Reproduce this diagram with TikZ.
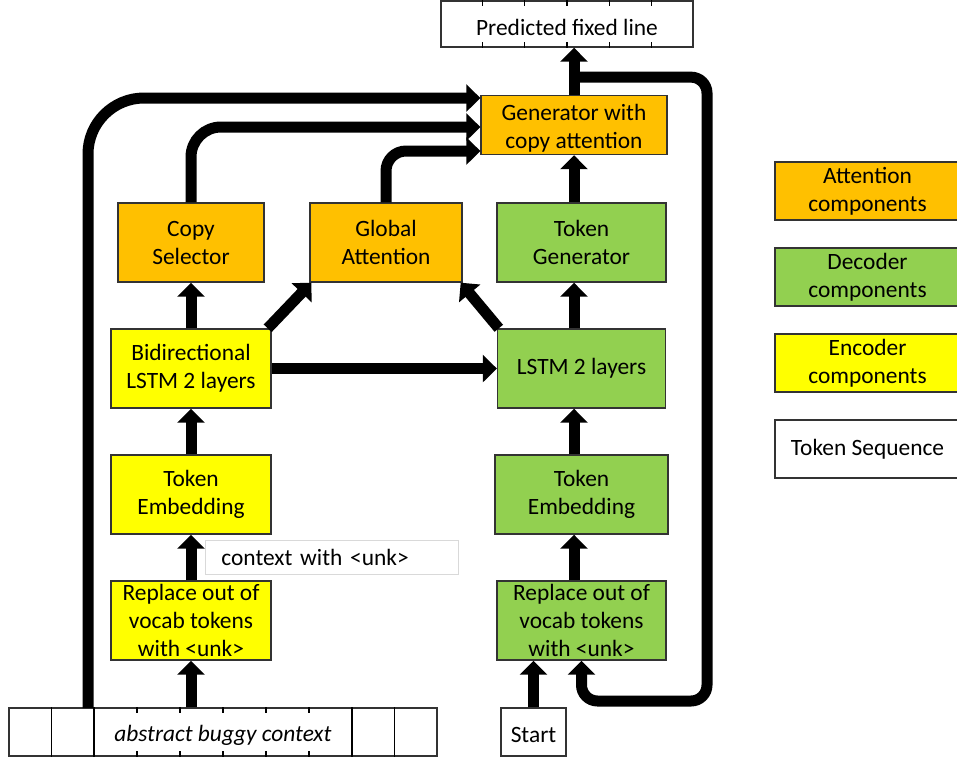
\documentclass[tikz,border=0pt]{standalone}
\usepackage{fontspec}
\setmainfont{Carlito}
\usetikzlibrary{arrows.meta,positioning,calc}
\definecolor{attnorange}{HTML}{FFC000}
\definecolor{decgreen}{HTML}{92D050}
\definecolor{encyellow}{HTML}{FFFF00}
\newcommand{\nudge}[1]{\raisebox{-1.5pt}[\height][\depth]{#1}}
\tikzstyle{block} = [draw=black!80, line width=0.7pt, rectangle, align=center,
    inner sep=0pt, minimum height=39.5pt]
\tikzstyle{attn} = [block, fill=attnorange]
\tikzstyle{dec} = [block, fill=decgreen]
\tikzstyle{enc} = [block, fill=encyellow]
\tikzstyle{tokens} = [block, fill=white, minimum height=24pt]
\tikzstyle{legend} = [block, minimum width=92.5pt, minimum height=29pt]
\tikzstyle{flow} = [->, line width=5.5pt]

\begin{document}
\begin{tikzpicture}[x=0.5pt, y=-0.5pt, node distance=63pt,
    font=\fontsize{11.7}{14}\selectfont,
    >={Triangle[width=13.5pt,length=7pt]}]
    \useasboundingbox (0,0) rectangle (957,761);
    % encoder side
    \node [enc, minimum width=80pt] (repE) at (191,620.5) {Replace out of\\ vocab tokens\\ with <unk>};
    \node [enc, minimum width=80pt, above of=repE] (embE) {Token\\ Embedding};
    \node [enc, minimum width=80pt, above of=embE] (lstmE) {Bidirectional\\ LSTM 2 layers};
    \node [attn, minimum width=73pt, above of=lstmE] (copysel) {Copy\\ Selector};
    \node [attn, minimum width=76pt, right of=copysel, node distance=97.5pt] (glob) {Global\\ Attention};
    % decoder side
    \node [dec, minimum width=84.5pt] (repD) at (581.5,620.5) {Replace out of\\ vocab tokens\\ with <unk>};
    \node [dec, minimum width=86.5pt, above of=repD] (embD) {Token\\ Embedding};
    \node [dec, minimum width=84pt, above of=embD] (lstmD) {LSTM 2 layers};
    \node [dec, minimum width=84.5pt, above of=lstmD] (tokgen) {Token\\ Generator};
    \node [attn, minimum width=93pt, minimum height=29.5pt] (gen) at (574,125) {\nudge{Generator with}\\ \nudge{copy attention}};
    % token sequences
    \node [tokens, minimum width=126pt, minimum height=23pt] (pred) at (567,24) {\nudge{Predicted fixed line}};
    \node [tokens, minimum width=214pt] (seq) at (223,732) {\nudge{\itshape abstract buggy context}};
    \node [tokens, minimum width=32.5pt] (start) at (533.5,732) {\nudge{Start}};
    \node [draw=black!15, anchor=west, text width=110.5pt, inner xsep=8pt,
            minimum height=17pt] (ctxlbl) at (205,557) {context with <unk>};
    \foreach \i in {1,2,8,9}
        \draw [line width=0.7pt] ($(seq.north west)!\i/10!(seq.north east)$) -- ($(seq.south west)!\i/10!(seq.south east)$);
    \foreach \i in {3,...,7} {
        \draw [line width=0.7pt] ($(seq.north west)!\i/10!(seq.north east)$) -- ++(0,6);
        \draw [line width=0.7pt] ($(seq.south west)!\i/10!(seq.south east)$) -- ++(0,-6);
    }
    \foreach \i in {1,...,5} {
        \draw [line width=0.7pt] ($(pred.north west)!\i/6!(pred.north east)$) -- ++(0,6);
        \draw [line width=0.7pt] ($(pred.south west)!\i/6!(pred.south east)$) -- ++(0,-6);
    }
    % legend
    \node [legend, fill=attnorange] (legattn) at (867.5,191) {Attention\\ components};
    \node [legend, fill=decgreen, below of=legattn, node distance=43pt] (legdec) {Decoder\\ components};
    \node [legend, fill=encyellow, below of=legdec, node distance=43pt] (legenc) {Encoder\\ components};
    \node [legend, fill=white, below of=legenc, node distance=43pt] (legtok) {Token Sequence};
    \coordinate (seqtap) at (88,708);
    \coordinate (loopR) at (707,701);
    \path (gen.north) -- (pred.south) coordinate[pos=0.375] (tap);
    % connectors
    \draw [flow] (seq.north -| repE.south) -- (repE.south);
    \draw [flow] (repE) -- (embE);
    \draw [flow] (embE) -- (lstmE);
    \draw [flow] (lstmE) -- (copysel);
    \draw [flow] ([xshift=-2pt]lstmE.north east) -- ([xshift=1pt]glob.south west);
    \draw [flow] (lstmE) -- (lstmD);
    \draw [flow] ([xshift=1pt]lstmD.north west) -- ([xshift=-1pt]glob.south east);
    \draw [flow] (start.north) -- (start.north |- repD.south);
    \draw [flow] (repD.north -| gen.south) -- (embD.south -| gen.south);
    \draw [flow] (embD.north -| gen.south) -- (lstmD.south -| gen.south);
    \draw [flow] (lstmD.north -| gen.south) -- (tokgen.south -| gen.south);
    \draw [flow] (tokgen.north -| gen.south) -- (gen.south);
    \draw [flow] (gen.north) -- (gen.north |- pred.south);
    \draw [flow, rounded corners=28pt] (seqtap) |- ([yshift=13.5pt]gen.west);
    \draw [flow, rounded corners=15pt] (copysel.north) |- ([yshift=-1pt]gen.west);
    \draw [flow, rounded corners=10pt] (glob.north) |- ([yshift=-13pt]gen.west);
    \draw [flow, rounded corners=8pt] (tap) -| (loopR) -| (repD.south);
\end{tikzpicture}
\end{document}
